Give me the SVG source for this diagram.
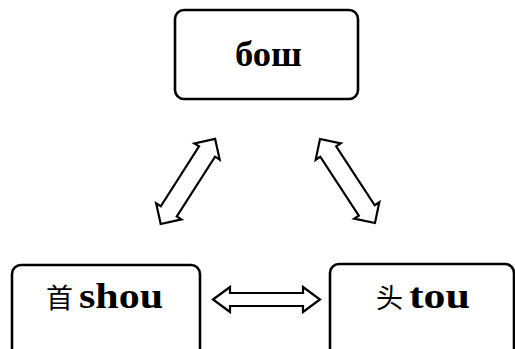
<svg xmlns="http://www.w3.org/2000/svg" width="515" height="349" viewBox="0 0 515 349">
<style>
.box{fill:#fff;stroke:#000;stroke-width:2.6}
.lbl{font-family:"Liberation Serif","Noto Sans CJK SC",serif;font-weight:bold;font-size:36px;fill:#000}
.cjk{font-family:"Noto Sans CJK SC",sans-serif;font-weight:normal;font-size:27px}
.arr{fill:#fff;stroke:#000;stroke-width:2.2;stroke-linejoin:miter}
</style>
<rect width="515" height="349" fill="#fff"/>
<g id="connectors">
<path class="arr" transform="translate(160.7,224) rotate(-57.4)" d="M0,0 L15,-15 L15,-9.5 L86,-9.5 L86,-15 L101,0 L86,15 L86,9.5 L15,9.5 L15,15 Z"/>
<path class="arr" transform="translate(320,139) rotate(56.8)" d="M0,0 L15,-15 L15,-9.5 L85.4,-9.5 L85.4,-15 L100.4,0 L85.4,15 L85.4,9.5 L15,9.5 L15,15 Z"/>
<path class="arr" transform="translate(213,299.5)" d="M0,0 L17,-12.5 L17,-6.5 L90,-6.5 L90,-12.5 L107,0 L90,12.5 L90,6.5 L17,6.5 L17,12.5 Z"/>
</g>
<g id="node-bosh">
<rect class="box" x="175" y="10" width="183" height="89" rx="9"/>
<text class="lbl" x="235" y="66" textLength="67" lengthAdjust="spacingAndGlyphs">бош</text>
</g>
<g id="node-shou">
<rect class="box" x="12" y="265" width="188" height="100" rx="9"/>
<text class="lbl" x="46" y="308"><tspan class="cjk">首 </tspan><tspan x="79" textLength="84" lengthAdjust="spacingAndGlyphs">shou</tspan></text>
</g>
<g id="node-tou">
<rect class="box" x="330" y="264" width="184" height="100" rx="9"/>
<text class="lbl" x="376" y="308"><tspan class="cjk">头 </tspan><tspan x="409" textLength="61" lengthAdjust="spacingAndGlyphs">tou</tspan></text>
</g>
</svg>
